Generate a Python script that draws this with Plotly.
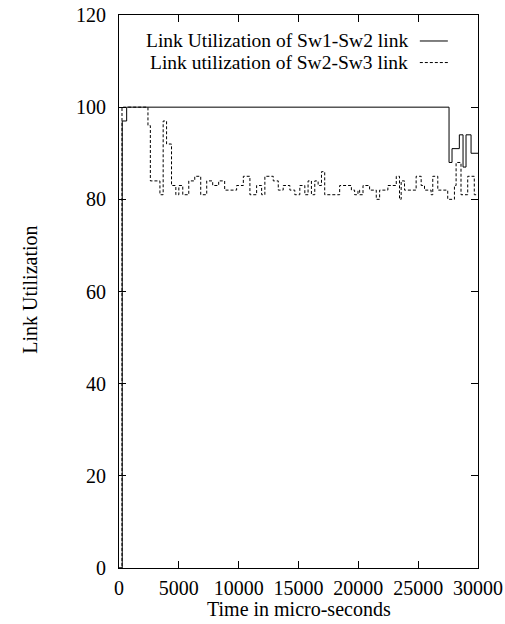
import plotly.graph_objects as go

# Data (time in micro-seconds, link utilization %), step series
sw12_t = [0, 270, 640, 27580, 27830, 28440, 28750, 29000, 29420, 30000]
sw12_v = [0, 97, 100, 88, 91, 94, 87, 94, 90, 90]

sw23_t = [0, 250, 2420, 2620, 3420, 3690, 3975, 4390, 4750, 5000, 5330, 5830,
          6330, 6830, 7330, 7830, 8330, 8830, 9330, 9830, 10390, 10940, 11500,
          11920, 12190, 12890, 13310, 13720, 14280, 14690, 15110, 15530, 15800,
          16080, 16360, 16640, 16920, 17190, 18440, 19420, 19690, 19970, 20110,
          20390, 20940, 21360, 21500, 21780, 22060, 22470, 22750, 23170, 23440,
          23580, 23860, 24420, 24830, 25250, 25530, 26080, 26220, 26640, 27470,
          28030, 28170, 28580, 29140, 29690, 30000]
sw23_v = [0, 100, 96, 84, 81, 97, 92, 83, 81, 83, 81, 84,
          85, 81, 84, 83, 84, 82, 82, 83, 85, 81, 83,
          81, 85, 84, 82, 83, 82, 81, 83, 81, 84,
          81, 84, 83, 86, 81, 83, 82, 81, 82, 81,
          83, 82, 82, 80, 82, 82, 83, 83, 85, 80,
          84, 82, 82, 85, 83, 82, 81, 85, 82, 80,
          83, 88, 81, 85, 81, 81]

legend_labels = ["Link Utilization of Sw1-Sw2 link", "Link utilization of Sw2-Sw3 link"]
x_ticks = [0, 5000, 10000, 15000, 20000, 25000, 30000]
y_ticks = [0, 20, 40, 60, 80, 100, 120]

FONT = "Liberation Serif"
FS = 20

fig = go.Figure()
fig.add_trace(go.Scatter(x=sw12_t, y=sw12_v, mode="lines", line_shape="hv",
                         line=dict(color="black", width=1), name=legend_labels[0],
                         showlegend=False))
fig.add_trace(go.Scatter(x=sw23_t, y=sw23_v, mode="lines", line_shape="hv",
                         line=dict(color="black", width=1, dash="3px,2px"),
                         name=legend_labels[1], showlegend=False))

axis_common = dict(showgrid=False, zeroline=False, showline=True, linecolor="black",
                   linewidth=1, mirror="ticks", ticks="inside", ticklen=7,
                   tickcolor="black", automargin=False,
                   tickfont=dict(family=FONT, size=FS, color="black"))

fig.update_xaxes(range=[0, 30000], tickvals=x_ticks, ticktext=[str(v) for v in x_ticks],
                 ticklabelstandoff=2, **axis_common)
fig.update_yaxes(range=[0, 120], tickvals=y_ticks, ticktext=[str(v) for v in y_ticks],
                 ticklabelstandoff=8, **axis_common)

# Legend (gnuplot style: text right-aligned, sample to the right)
leg_y = [0.953, 0.914]
for i, lab in enumerate(legend_labels):
    fig.add_annotation(xref="paper", yref="paper", x=0.8106, y=leg_y[i], text=lab,
                       showarrow=False, xanchor="right", yanchor="middle",
                       font=dict(family=FONT, size=19.5, color="black"))
    fig.add_shape(type="line", xref="paper", yref="paper", x0=0.838, x1=0.916,
                  y0=leg_y[i], y1=leg_y[i],
                  line=dict(color="black", width=1, dash="solid" if i == 0 else "3px,2px"))

fig.add_annotation(xref="paper", yref="paper", x=0.5, y=-0.0745, text="Time in micro-seconds",
                   showarrow=False, xanchor="center", yanchor="middle",
                   font=dict(family=FONT, size=FS, color="black"))
fig.add_annotation(xref="paper", yref="paper", x=-0.248, y=0.503, text="Link Utilization",
                   showarrow=False, textangle=-90, xanchor="center", yanchor="middle",
                   font=dict(family=FONT, size=FS, color="black"))

fig.update_layout(width=505, height=624, margin=dict(l=119, r=27, t=15, b=56),
                  paper_bgcolor="white", plot_bgcolor="white", showlegend=False)

fig.write_html("out.html")
